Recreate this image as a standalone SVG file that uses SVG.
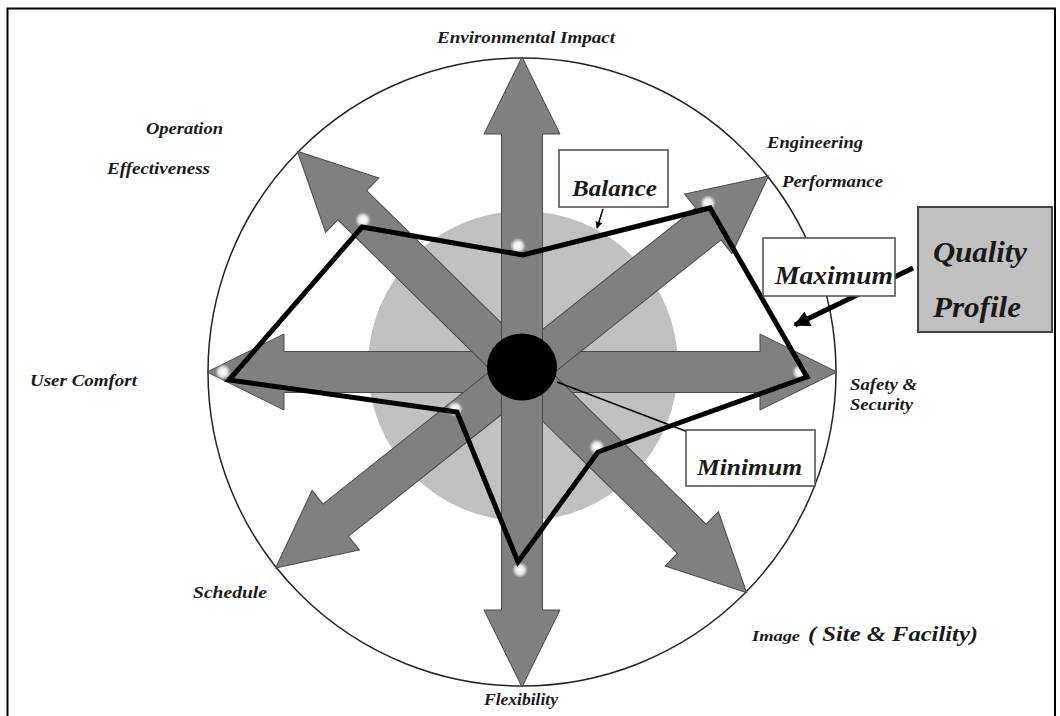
<svg xmlns="http://www.w3.org/2000/svg" width="1060" height="716" viewBox="0 0 1060 716">
  <style>
    .lbl { font-family: "Liberation Serif", "Times New Roman", serif; font-weight: bold; font-style: italic; fill: #1a1a1a; }
    .axis { fill: #808080; stroke: #4a4a4a; stroke-width: 1; stroke-linejoin: miter; }
    .box { fill: #ffffff; stroke: #555555; stroke-width: 1.6; }
    .profile { fill: none; stroke: #000000; stroke-width: 5; stroke-linejoin: miter; }
  </style>
  <defs>
    <!-- double-headed axis arrow laid along the x axis -->
    <polygon id="axisShape" points="-315,0 -238,-38 -238,-20.5 238,-20.5 238,-38 315,0 238,38 238,20.5 -238,20.5 -238,38"/>
    <radialGradient id="glow">
      <stop offset="0" stop-color="#ffffff" stop-opacity="1"/>
      <stop offset="0.5" stop-color="#ffffff" stop-opacity="0.85"/>
      <stop offset="1" stop-color="#ffffff" stop-opacity="0"/>
    </radialGradient>
    <marker id="tipSmall" viewBox="0 0 10 10" refX="9" refY="5" markerWidth="7" markerHeight="7" orient="auto" markerUnits="userSpaceOnUse">
      <path d="M0,0 L10,5 L0,10 z" fill="#000"/>
    </marker>
    <marker id="tipBig" viewBox="0 0 10 10" refX="9" refY="5" markerWidth="18" markerHeight="16" orient="auto" markerUnits="userSpaceOnUse">
      <path d="M0,0 L10,5 L0,10 z" fill="#000"/>
    </marker>
  </defs>

  <rect x="0" y="0" width="1060" height="716" fill="#ffffff"/>
  <!-- frame -->
  <rect x="7.5" y="8.5" width="1047.5" height="740" fill="none" stroke="#000" stroke-width="2"/>

  <!-- outer quality boundary and inner zone -->
  <g id="outer-circle">
    <circle cx="522" cy="372" r="314" fill="#ffffff" stroke="#222" stroke-width="1.5"/>
  </g>
  <g id="inner-zone">
    <circle cx="523" cy="366" r="155" fill="#c0c0c0"/>
  </g>

  <!-- axes -->
  <g id="axis-horizontal" transform="translate(522,372)"><use href="#axisShape" class="axis"/></g>
  <g id="axis-ne-sw" transform="translate(522,372) rotate(-38.5)"><use href="#axisShape" class="axis"/></g>
  <g id="axis-nw-se" transform="translate(522,372) rotate(44.5)"><use href="#axisShape" class="axis"/></g>
  <g id="axis-vertical" transform="translate(522,372) rotate(90)"><use href="#axisShape" class="axis"/></g>

  <!-- score markers on each axis -->
  <g id="markers" fill="url(#glow)">
    <circle cx="363" cy="220" r="8"/>
    <circle cx="518" cy="246" r="8"/>
    <circle cx="708" cy="203" r="8"/>
    <circle cx="800" cy="372" r="8"/>
    <circle cx="597" cy="447" r="8"/>
    <circle cx="520" cy="570" r="8"/>
    <circle cx="455" cy="409" r="8"/>
    <circle cx="223" cy="372" r="8"/>
  </g>

  <!-- centre hub -->
  <g id="hub">
    <ellipse cx="522" cy="367" rx="35" ry="33.5" fill="#000"/>
  </g>

  <!-- connectors: profile outline and callout pointers -->
  <g id="connectors">
    <polygon class="profile" points="362,227 523,255 710,208 807,377 598,452 518,562 457,412 229,380"/>
    <line x1="557" y1="382" x2="688" y2="432" stroke="#000" stroke-width="1.5"/>
    <line x1="603" y1="209" x2="597" y2="228" stroke="#000" stroke-width="1.5" marker-end="url(#tipSmall)"/>
    <line x1="780" y1="260" x2="808" y2="241" stroke="#000" stroke-width="1.5" marker-end="url(#tipSmall)"/>
    <line x1="913" y1="268" x2="795" y2="325" stroke="#000" stroke-width="5" marker-end="url(#tipBig)"/>
  </g>

  <!-- callout boxes -->
  <g id="balance">
    <rect class="box" x="559" y="150" width="109" height="57"/>
    <text class="lbl" x="572" y="196" font-size="24" textLength="85" lengthAdjust="spacingAndGlyphs">Balance</text>
  </g>
  <g id="maximum">
    <rect class="box" x="763" y="238" width="132" height="58"/>
    <text class="lbl" x="775" y="284" font-size="25" textLength="118" lengthAdjust="spacingAndGlyphs">Maximum</text>
  </g>
  <g id="minimum">
    <rect class="box" x="686" y="430" width="129" height="56"/>
    <text class="lbl" x="697" y="475" font-size="23" textLength="105" lengthAdjust="spacingAndGlyphs">Minimum</text>
  </g>
  <g id="quality-profile">
    <rect x="918" y="207" width="134" height="125" fill="#c0c0c0" stroke="#444" stroke-width="2"/>
    <text class="lbl" x="933" y="262" font-size="29" textLength="94" lengthAdjust="spacingAndGlyphs">Quality</text>
    <text class="lbl" x="933" y="317" font-size="29" textLength="88" lengthAdjust="spacingAndGlyphs">Profile</text>
  </g>

  <!-- axis labels -->
  <g id="label-environment"><text class="lbl" x="437" y="43" font-size="17" textLength="178" lengthAdjust="spacingAndGlyphs">Environmental Impact</text></g>
  <g id="label-operation">
    <text class="lbl" x="146" y="134" font-size="16" textLength="77" lengthAdjust="spacingAndGlyphs">Operation</text>
    <text class="lbl" x="107" y="174" font-size="16" textLength="103" lengthAdjust="spacingAndGlyphs">Effectiveness</text>
  </g>
  <g id="label-engineering">
    <text class="lbl" x="767" y="148" font-size="16" textLength="96" lengthAdjust="spacingAndGlyphs">Engineering</text>
    <text class="lbl" x="782" y="187" font-size="16" textLength="101" lengthAdjust="spacingAndGlyphs">Performance</text>
  </g>
  <g id="label-comfort"><text class="lbl" x="30" y="386" font-size="16" textLength="107" lengthAdjust="spacingAndGlyphs">User Comfort</text></g>
  <g id="label-safety">
    <text class="lbl" x="850" y="390" font-size="16" textLength="67" lengthAdjust="spacingAndGlyphs">Safety &amp;</text>
    <text class="lbl" x="850" y="410" font-size="16" textLength="63" lengthAdjust="spacingAndGlyphs">Security</text>
  </g>
  <g id="label-schedule"><text class="lbl" x="193" y="598" font-size="16" textLength="74" lengthAdjust="spacingAndGlyphs">Schedule</text></g>
  <g id="label-flexibility"><text class="lbl" x="484" y="705" font-size="16" textLength="74" lengthAdjust="spacingAndGlyphs">Flexibility</text></g>
  <g id="label-image">
    <text class="lbl" x="752" y="641" font-size="15" textLength="48" lengthAdjust="spacingAndGlyphs">Image</text>
    <text class="lbl" x="808" y="641" font-size="20" textLength="170" lengthAdjust="spacingAndGlyphs">( Site &amp; Facility)</text>
  </g>
</svg>
